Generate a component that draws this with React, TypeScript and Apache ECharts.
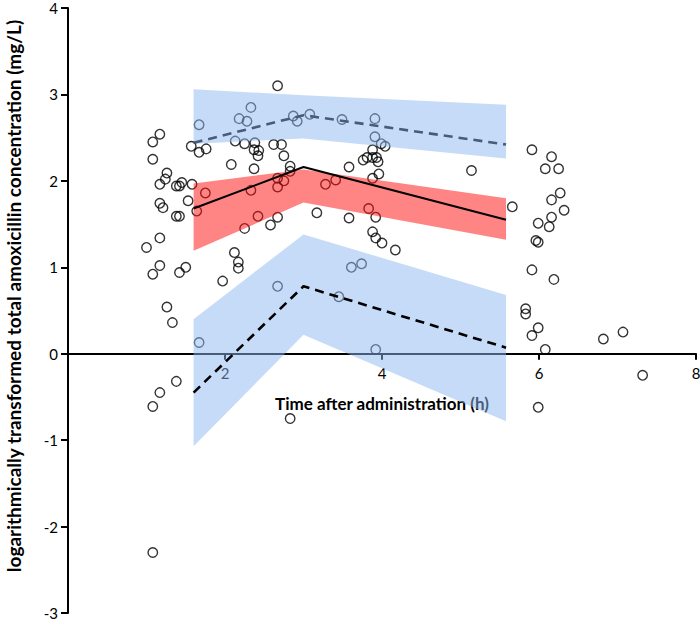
import React, { useEffect, useRef } from "react";
import * as echarts from "echarts";

// Observed concentrations (time h, log concentration)
const OBS_TIME = [
  1.08, 1.08, 1.17, 1.38, 1.33, 1.26, 1.67, 1.17, 1.08, 1.42, 1.50, 1.00, 1.17,
  1.08, 1.17, 1.08, 1.57, 1.67, 1.76, 1.26, 1.24, 1.17, 1.38, 1.42, 1.45, 1.58,
  1.17, 1.21, 1.38, 1.42, 1.53, 1.64, 1.75, 1.67,
  2.18, 2.28, 2.33, 2.13, 2.25, 2.38, 2.37, 2.43, 2.42, 2.08, 2.37, 2.33, 2.42,
  2.25, 2.12, 2.17, 2.17, 1.97,
  2.67, 2.87, 2.92, 3.08, 3.49, 3.91, 3.91, 3.99, 4.04, 2.62, 2.72, 2.75, 2.83,
  2.67, 2.67, 2.75, 2.83, 3.28, 3.41, 3.58, 3.88, 3.76, 3.81, 3.88, 3.93, 3.95,
  3.88, 3.96, 3.83, 3.92, 2.67, 2.58, 3.17, 3.58, 3.88, 3.92, 4.00, 4.17, 2.67,
  3.61, 3.74, 3.45, 3.92, 2.83,
  5.14, 5.66, 5.91, 6.16, 6.08, 6.25, 6.27, 6.16, 6.32, 6.16, 5.99, 6.13, 5.96,
  5.99, 5.91, 6.19, 5.83, 5.83, 5.99, 5.91, 6.08, 6.82, 7.07, 7.32, 5.99,
];
const OBS_CONC = [
  -2.30, -0.61, -0.45, -0.32, 0.36, 0.54, 0.13, 1.02, 0.92, 0.94, 1.00, 1.23, 1.34,
  2.45, 2.54, 2.25, 2.40, 2.33, 2.37, 2.09, 2.02, 1.96, 1.94, 1.94, 1.98, 1.96,
  1.74, 1.69, 1.59, 1.59, 1.77, 1.65, 1.86, 2.65,
  2.72, 2.69, 2.85, 2.46, 2.43, 2.44, 2.36, 2.35, 2.29, 2.19, 2.14, 1.89, 1.59,
  1.45, 1.17, 1.06, 0.99, 0.84,
  3.10, 2.75, 2.69, 2.77, 2.71, 2.72, 2.51, 2.43, 2.40, 2.42, 2.42, 2.29, 2.17,
  2.03, 1.93, 2.00, 2.11, 1.96, 2.01, 2.16, 2.36, 2.24, 2.27, 2.27, 2.27, 2.22,
  2.03, 2.08, 1.68, 1.58, 1.58, 1.49, 1.63, 1.57, 1.41, 1.34, 1.28, 1.20, 0.78,
  1.00, 1.04, 0.66, 0.05, -0.75,
  2.12, 1.70, 2.36, 2.28, 2.14, 2.14, 1.86, 1.78, 1.66, 1.58, 1.51, 1.47, 1.31,
  1.29, 0.97, 0.86, 0.52, 0.46, 0.30, 0.21, 0.05, 0.17, 0.25, -0.25, -0.62,
];

// Prediction time points
const PRED_TIME = [1.6, 3.0, 5.58];
// Percentile lines
const P95_LINE = [2.44, 2.76, 2.42];
const MEDIAN_LINE = [1.68, 2.16, 1.55];
const P5_LINE = [-0.45, 0.78, 0.07];
// Confidence bands
const P95_LO = [2.43, 2.49, 2.26];
const P95_HI = [3.06, 2.99, 2.88];
const MED_LO = [1.19, 1.75, 1.32];
const MED_HI = [1.97, 2.13, 1.80];
const P5_LO = [-1.07, 0.22, -0.78];
const P5_HI = [0.40, 1.38, 0.68];

const X_TICKS = [0, 2, 4, 6, 8];
const Y_TICKS = [-3, -2, -1, 0, 1, 2, 3, 4];

const X_NAME = "Time after administration (h)";
const Y_NAME = "logarithmically transformed total amoxicillin concentration (mg/L)";

const FONT = "Lato, 'Open Sans', sans-serif";

const GRID = { left: 68, right: 4, top: 8, bottom: 12 };
const H = 625;

function bandSeries(lo: number[], hi: number[], fill: string) {
  const rows = PRED_TIME.map((t, i) => [t, lo[i], hi[i]]);
  return {
    type: "custom",
    coordinateSystem: "cartesian2d",
    z: 3,
    silent: true,
    data: rows,
    encode: { x: 0, y: [1, 2] },
    renderItem: (params: any, api: any) => {
      if (params.dataIndex !== 0) return { type: "group", children: [] };
      const top = PRED_TIME.map((t, i) => api.coord([t, hi[i]]));
      const bot = PRED_TIME.map((t, i) => api.coord([t, lo[i]])).reverse();
      return {
        type: "polygon",
        shape: { points: top.concat(bot) },
        style: { fill },
      };
    },
  };
}

function lineSeries(vals: number[], dashed: boolean, z: number, width: number) {
  return {
    type: "line",
    z,
    silent: true,
    symbol: "none",
    data: PRED_TIME.map((t, i) => [t, vals[i]]),
    lineStyle: {
      color: "#000",
      width,
      type: dashed ? [9, 6] : "solid",
    },
  };
}

export default function App() {
  const ref = useRef<HTMLDivElement>(null);
  useEffect(() => {
    if (!ref.current) return;
    const chart = echarts.init(ref.current, undefined, { renderer: "svg" });
    const yMin = Y_TICKS[0];
    const yMax = Y_TICKS[Y_TICKS.length - 1];
    const gridH = H - GRID.top - GRID.bottom;
    // move the x axis (line, ticks, labels, name) up to y = 0
    const xOffset = -gridH * (0 - yMin) / (yMax - yMin);
    chart.setOption({
      animation: false,
      backgroundColor: "#fff",
      textStyle: { fontFamily: FONT },
      grid: { ...GRID, containLabel: false, outerBoundsMode: "none" },
      xAxis: {
        type: "value",
        min: X_TICKS[0],
        max: X_TICKS[X_TICKS.length - 1],
        interval: 2,
        offset: xOffset,
        name: X_NAME,
        nameLocation: "middle",
        nameGap: 41,
        nameTextStyle: { fontFamily: FONT, fontWeight: "bold", fontSize: 17, color: "#000" },
        axisLine: { onZero: false, lineStyle: { color: "#000", width: 2 } },
        axisTick: { show: true, inside: false, length: 6, lineStyle: { color: "#000", width: 2 } },
        axisLabel: {
          fontFamily: FONT,
          fontSize: 15,
          color: "#000",
          margin: 12,
          formatter: (v: number) => (v === 0 ? "" : String(v)),
        },
        splitLine: { show: false },
      },
      yAxis: {
        type: "value",
        min: yMin,
        max: yMax,
        interval: 1,
        axisLine: { onZero: false, lineStyle: { color: "#000", width: 2 } },
        axisTick: { show: true, inside: false, length: 7, lineStyle: { color: "#000", width: 2 } },
        axisLabel: { fontFamily: FONT, fontSize: 15, color: "#000", margin: 10 },
        splitLine: { show: false },
      },
      graphic: [
        {
          type: "text",
          x: 13,
          y: 296,
          rotation: Math.PI / 2,
          silent: true,
          style: {
            text: Y_NAME,
            font: "bold 19px Lato, 'Open Sans', sans-serif",
            fill: "#000",
            align: "center",
            verticalAlign: "middle",
          },
        },
      ],
      series: [
        {
          type: "scatter",
          z: 1,
          silent: true,
          symbol: "circle",
          symbolSize: 9.5,
          data: OBS_TIME.map((t, i) => [t, OBS_CONC[i]]),
          itemStyle: { color: "rgba(0,0,0,0)", borderColor: "#000", borderWidth: 1.4 },
        },
        lineSeries(P95_LINE, true, 2, 2.6),
        bandSeries(P95_LO, P95_HI, "rgba(141,183,239,0.5)"),
        bandSeries(MED_LO, MED_HI, "rgba(255,10,10,0.5)"),
        bandSeries(P5_LO, P5_HI, "rgba(141,183,239,0.5)"),
        lineSeries(MEDIAN_LINE, false, 4, 2),
        lineSeries(P5_LINE, true, 4, 2.6),
      ],
    });
    return () => chart.dispose();
  }, []);
  return (
    <div
      ref={ref}
      style={{ position: "fixed", left: 0, top: 0, width: 700, height: 625 }}
    />
  );
}
